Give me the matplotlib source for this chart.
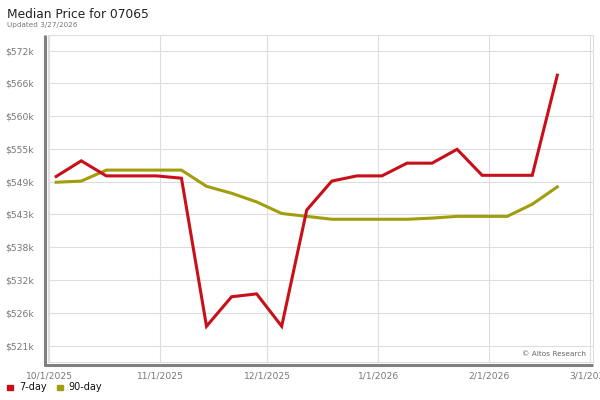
import matplotlib
matplotlib.use("Agg")
import matplotlib.pyplot as plt
import matplotlib.dates as mdates
from matplotlib.lines import Line2D
from matplotlib.patches import Rectangle
import numpy as np
import datetime as dt

# ---- data ----
start = dt.date(2025, 10, 3)
dates = [start + dt.timedelta(days=7 * i) for i in range(21)]
seven_day = [549900, 552600, 550000, 550000, 550000, 549600, 524000, 529100, 529600,
             524000, 544100, 549100, 550000, 550000, 552200, 552200, 554600, 550100,
             550100, 550100, 567400]
ninety_day = [548900, 549100, 551000, 551000, 551000, 551000, 548200, 547000, 545500,
              543500, 543000, 542500, 542500, 542500, 542500, 542700, 543000, 543000,
              543000, 545100, 548100]
ytick_vals = [520667 + 5666.67 * i for i in range(10)]
ytick_labels = ["$521k", "$526k", "$532k", "$538k", "$543k", "$549k", "$555k",
                "$560k", "$566k", "$572k"]
xtick_dates = [dt.date(2025, 10, 1), dt.date(2025, 11, 1), dt.date(2025, 12, 1),
               dt.date(2026, 1, 1), dt.date(2026, 2, 1), dt.date(2026, 3, 1)]
xtick_labels = ["10/1/2025", "11/1/2025", "12/1/2025", "1/1/2026", "2/1/2026", "3/1/2026"]

RED = "#c8101a"
OLIVE = "#a19d0c"
W, H = 600, 400

fig = plt.figure(figsize=(6, 4), dpi=100)
L, R, T, B = 48, 593, 35, 362
ax = fig.add_axes([L / W, 1 - B / H, (R - L) / W, (B - T) / H])

x = mdates.date2num(dates)
ax.plot(x, ninety_day, color=OLIVE, lw=2.2, solid_joinstyle="miter", zorder=3)
ax.plot(x, seven_day, color=RED, lw=2.2, solid_joinstyle="miter", zorder=4)

x0 = mdates.date2num(dt.date(2025, 10, 1))
ax.set_xlim(x0 - 0.28, x0 + 151.97)
ax.set_ylim(517820, 574360)

ax.set_xticks(mdates.date2num(xtick_dates))
ax.set_xticklabels(xtick_labels)
ax.set_yticks(ytick_vals)
ax.set_yticklabels(ytick_labels)
ax.tick_params(axis="both", length=0, colors="#777777")
ax.tick_params(axis="x", labelsize=6.6, pad=7)
ax.tick_params(axis="y", labelsize=6.7, pad=10)
ax.grid(True, color="#dddddd", lw=0.8, zorder=0)
ax.set_axisbelow(True)
for s in ax.spines.values():
    s.set_color("#dddddd")
    s.set_linewidth(0.8)

# thick gray shadow borders
fig.add_artist(Line2D([45 / W, 45 / W], [1 - 35 / H, 1 - 366 / H], color="#808080",
                      lw=2.2, transform=fig.transFigure, solid_capstyle="butt"))
fig.add_artist(Line2D([44 / W, 593 / W], [1 - 364.5 / H, 1 - 364.5 / H], color="#808080",
                      lw=2.2, transform=fig.transFigure, solid_capstyle="butt"))

fig.text(7 / W, 1 - 14 / H, "Median Price for 07065", fontsize=8.8, color="#222222",
         va="center", ha="left")
fig.text(7 / W, 1 - 25 / H, "Updated 3/27/2026", fontsize=5.2, color="#777777",
         va="center", ha="left")
fig.text(586 / W, 1 - 354 / H, "\u00a9 Altos Research", fontsize=5.3, color="#666666",
         va="center", ha="right")

# legend
for (lx, col, lab, tx) in [(7, RED, "7-day", 19), (57, OLIVE, "90-day", 68)]:
    fig.add_artist(Rectangle((lx / W, 1 - 390 / H), 5.5 / W, 5.5 / H, color=col,
                             transform=fig.transFigure))
    fig.text(tx / W, 1 - 386.5 / H, lab, fontsize=7, color="#111111", va="center", ha="left")

fig.savefig("out.png", dpi=100)
